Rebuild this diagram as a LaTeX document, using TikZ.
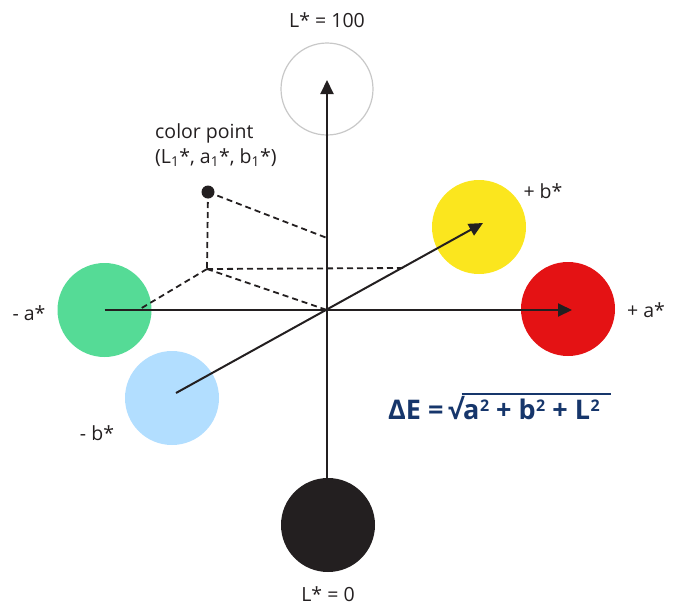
\documentclass[tikz,border=0pt]{standalone}
\usepackage{fontspec}
\setmainfont{Open Sans}
\usetikzlibrary{arrows.meta}
\definecolor{cgreen}{RGB}{85,219,150}
\definecolor{cblue}{RGB}{178,222,255}
\definecolor{cyellow}{RGB}{251,230,30}
\definecolor{cred}{RGB}{228,18,20}
\definecolor{cblack}{RGB}{35,31,32}
\definecolor{cgray}{RGB}{200,200,200}
\definecolor{cnavy}{RGB}{22,54,107}
\newcommand\mysq[1]{\raisebox{8pt}{\fontsize{16}{16}\selectfont\bfseries\kern0.5pt #1}}
\begin{document}
\begin{tikzpicture}[x=1pt,y=-1pt,
  blob/.style={circle,minimum size=94pt,inner sep=0pt},
  axisline/.style={line width=2pt,draw=cblack,-{Triangle[length=14pt,width=13pt]}},
  guide/.style={line width=1.8pt,draw=cblack,dash pattern=on 6pt off 4pt},
  lbl/.style={font=\fontsize{19.5}{23}\selectfont,text=cblack,inner sep=0pt},
  frm/.style={inner sep=0pt,text=cnavy,font=\fontsize{27}{30}\selectfont\bfseries}]
\useasboundingbox (0,0) rectangle (673,606);
% circles
\node[blob,draw=cgray,line width=1.2pt,minimum size=92pt] (white) at (327,89) {};
\node[blob,fill=cblack] (black) at (328,525) {};
\node[blob,fill=cgreen] (green) at (104.5,310) {};
\node[blob,fill=cblue] (blue) at (172,398) {};
\node[blob,fill=cyellow] (yellow) at (479,227) {};
\node[blob,fill=cred] (red) at (568,309) {};
% coordinates
\coordinate (origin) at (327,310);
\coordinate (ltip) at (327,80);
\coordinate (lbot) at (327,478);
\coordinate (atip) at (572,310);
\coordinate (btail) at (176,393);
\coordinate (btip) at (483,223);
\coordinate (cp) at (208,192);
\coordinate (cpL) at (327,238);
\coordinate (cpfoot) at (207,269);
\coordinate (cpb) at (405,268);
\coordinate (cpa) at (140,309);
% dashed guides
\draw[guide] (cp) -- (cpL);
\draw[guide] (cp) -- (cpfoot);
\draw[guide] (cpfoot) -- (cpb);
\draw[guide] (cpfoot) -- (cpa);
\draw[guide] (cpfoot) -- (origin);
% axes
\draw[axisline] (lbot) -- (ltip);
\draw[axisline] (green.center) -- (atip);
\draw[axisline] (btail) -- (btip);
\fill[cblack] (cp) circle (6.5pt);
% labels
\node[lbl] (t100) at (327,20) {L* = 100};
\node[lbl] (t0) at (328,594) {L* = 0};
\node[lbl,anchor=west] (tcp1) at (155,133) {color point};
\node[lbl,anchor=west] (tcp2) at (155,158) {(L\textsubscript{1}*, a\textsubscript{1}*, b\textsubscript{1}*)};
\node[lbl] (tpb) at (543,191) {+ b*};
\node[lbl] (tpa) at (646,310) {+ a*};
\node[lbl] (tma) at (29,313) {- a*};
\node[lbl] (tmb) at (97,433) {- b*};
% formula
\node[frm,anchor=base west] (fl) at (388,419) {ΔE =\,√};
\node[frm,anchor=base west] (fr) at (fl.base east) {a\mysq{2} + b\mysq{2} + L\mysq{2}\,};
\coordinate (barstart) at ([xshift=-1.5pt]fl.base east |- 0,394);
\coordinate (barend) at (611,394);
\draw[cnavy,line width=2.2pt] (barstart) -- (barend);
\end{tikzpicture}
\end{document}
